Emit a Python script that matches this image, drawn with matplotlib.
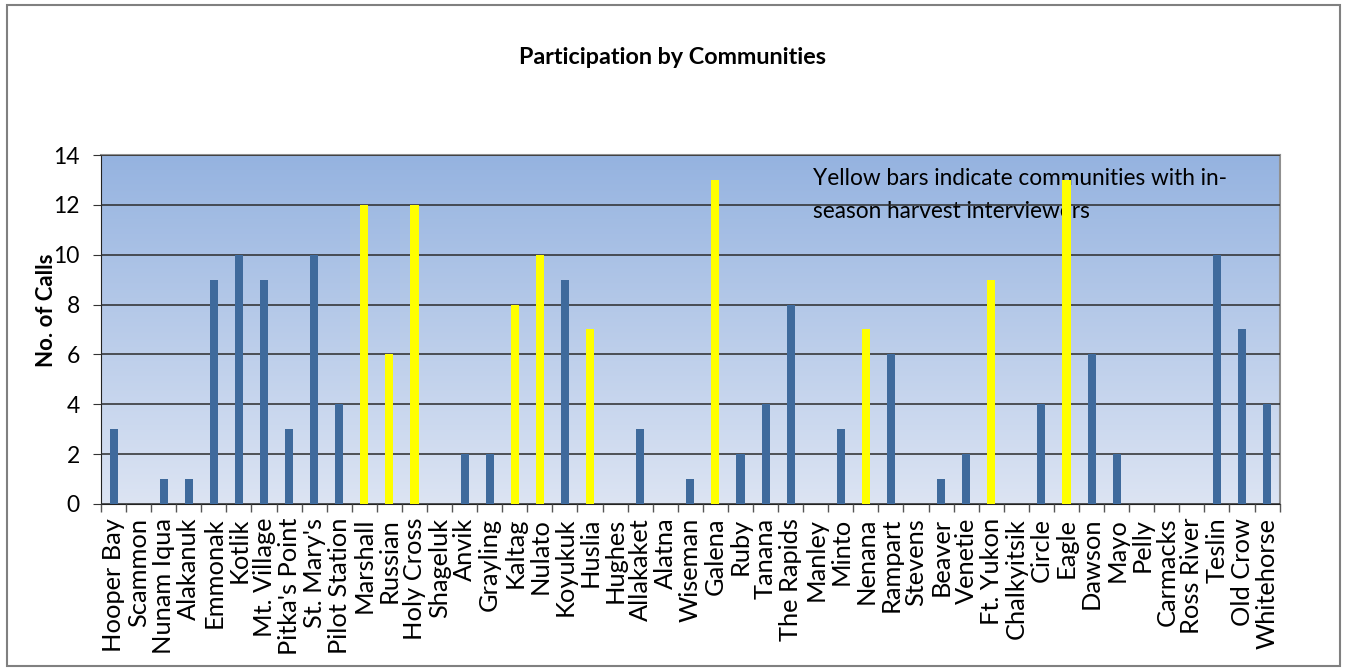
import numpy as np
import matplotlib
matplotlib.use('Agg')
import matplotlib.pyplot as plt
from matplotlib.colors import LinearSegmentedColormap
from matplotlib.patches import Rectangle

communities = ["Hooper Bay", "Scammon", "Nunam Iqua", "Alakanuk", "Emmonak", "Kotlik",
               "Mt. Village", "Pitka's Point", "St. Mary's", "Pilot Station", "Marshall",
               "Russian", "Holy Cross", "Shageluk", "Anvik", "Grayling", "Kaltag", "Nulato",
               "Koyukuk", "Huslia", "Hughes", "Allakaket", "Alatna", "Wiseman", "Galena",
               "Ruby", "Tanana", "The Rapids", "Manley", "Minto", "Nenana", "Rampart",
               "Stevens", "Beaver", "Venetie", "Ft. Yukon", "Chalkyitsik", "Circle", "Eagle",
               "Dawson", "Mayo", "Pelly", "Carmacks", "Ross River", "Teslin", "Old Crow",
               "Whitehorse"]
calls = [3, 0, 1, 1, 9, 10, 9, 3, 10, 4, 12, 6, 12, 0, 2, 2, 8, 10, 9, 7, 0, 3, 0, 1, 13,
         2, 4, 8, 0, 3, 7, 6, 0, 1, 2, 9, 0, 4, 13, 6, 2, 0, 0, 0, 10, 7, 4]
inseason = ["Marshall", "Russian", "Holy Cross", "Kaltag", "Nulato", "Huslia", "Galena",
            "Nenana", "Ft. Yukon", "Eagle"]

plt.rcParams['font.family'] = ['Lato', 'DejaVu Sans']

fig = plt.figure(figsize=(13.47, 6.71), dpi=100)
# outer chart border
fig.patches.append(Rectangle((0.005, 0.008), 0.99, 0.985, transform=fig.transFigure,
                             fill=False, edgecolor='#808080', linewidth=1.5))

ax = fig.add_axes([0.075, 0.249, 0.875, 0.52])
x = np.arange(len(communities))
colors = ['#FFFF00' if c in inseason else '#3F6A9C' for c in communities]

# gradient background
grad = np.linspace(0, 1, 256).reshape(-1, 1)
cmap = LinearSegmentedColormap.from_list('bg', ['#DCE4F3', '#95B3E0'])
ax.imshow(grad, aspect='auto', cmap=cmap, origin='lower',
          extent=[-0.5, len(communities) - 0.5, 0, 14], zorder=0)

ax.bar(x, calls, width=0.32, color=colors, zorder=3)

ax.set_xlim(-0.5, len(communities) - 0.5)
ax.set_ylim(0, 14)
ax.set_yticks(range(0, 15, 2))
ax.yaxis.grid(True, color='#2b2b2b', linewidth=1.1, zorder=1)
ax.set_axisbelow(False)

ax.set_xticks(x)
ax.set_xticklabels(communities, rotation=90, fontsize=18.3)
ax.set_xticks(np.arange(-0.5, len(communities), 1), minor=True)
ax.tick_params(axis='x', which='major', length=0, pad=10)
ax.tick_params(axis='x', which='minor', length=5.8, width=1, color='#555555')
ax.tick_params(axis='y', labelsize=16.5, length=5.8, color='#333333', pad=9.5)

for s in ['top', 'right']:
    ax.spines[s].set_color('#909090')
    ax.spines[s].set_linewidth(1.5)
ax.spines['left'].set_color('#222222')
ax.spines['bottom'].set_color('#222222')

ax.set_ylabel('No. of Calls', fontsize=16, fontweight='bold')
ax.yaxis.set_label_coords(-0.037, 0.555)
fig.text(0.499, 0.915, 'Participation by Communities', ha='center', va='center',
         fontsize=16.8, fontweight='bold')
ax.text(0.604, 0.962, 'Yellow bars indicate communities with in-\nseason harvest interviewers',
        transform=ax.transAxes, ha='left', va='top', fontsize=16.3, linespacing=1.7,
        zorder=2)

fig.savefig('out.png', dpi=100)
